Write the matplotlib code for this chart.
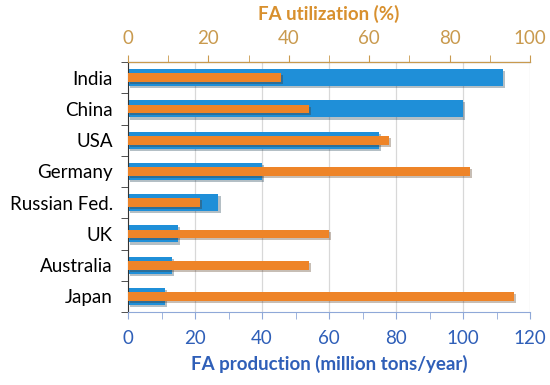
"""FA production vs utilization bar chart"""

import matplotlib.pyplot as plt
import matplotlib.patheffects as pe
import numpy as np
from matplotlib.ticker import MultipleLocator, FixedLocator

plt.rcParams['font.family'] = ['Lato', 'DejaVu Sans']

# == data ==
countries = ['India', 'China', 'USA', 'Germany', 'Russian Fed.', 'UK', 'Australia', 'Japan']
production = [112, 100, 75, 40, 27, 15, 13, 11]      # million tons/year
utilization = [38, 45, 65, 85, 18, 50, 45, 96]       # %

blue = '#1f8fd8'
orange = '#ee8428'
tan = '#c99a4e'
navy = '#2f5fb8'
fs = 13.5

# == plot ==
fig = plt.figure(figsize=(5.5, 3.85), dpi=100)
ax = fig.add_axes([128 / 550, 1 - 312 / 385, 402 / 550, 250 / 385])
y = np.arange(len(countries))

shadow = [pe.SimplePatchShadow(offset=(1.5, -1.5), alpha=0.3), pe.Normal()]
bars = ax.barh(y, production, height=0.55, color=blue, zorder=2)
for b in bars:
    b.set_path_effects(shadow)

ax.set_xlim(0, 120)
ax.set_ylim(len(countries) - 0.5, -0.5)
ax.set_yticks(y)
ax.set_yticklabels(countries, fontsize=fs)
ax.yaxis.set_minor_locator(FixedLocator(np.arange(-0.5, len(countries), 1)))
ax.tick_params(axis='y', which='major', length=0, pad=11)
ax.tick_params(axis='y', which='minor', length=5, color='#333333')

ax.xaxis.set_major_locator(MultipleLocator(20))
ax.xaxis.set_minor_locator(MultipleLocator(10))
ax.tick_params(axis='x', which='both', colors='#8fa8d8', length=5, labelcolor=navy,
               labelsize=fs, pad=8)
ax.grid(axis='x', which='major', color='#d8d8d8', lw=0.9, zorder=0)
ax.set_axisbelow(True)
ax.set_xlabel('FA production (million tons/year)', fontsize=fs, fontweight='bold',
              color=navy, labelpad=6)

ax.spines['right'].set_visible(False)
ax.spines['left'].set_color('#333333')
ax.spines['bottom'].set_color('#8fa8d8')

# top axis: utilization
ax2 = ax.twiny()
bars2 = ax2.barh(y, utilization, height=0.28, color=orange, zorder=3)
for b in bars2:
    b.set_path_effects(shadow)
ax2.set_xlim(0, 100)
ax2.xaxis.set_major_locator(MultipleLocator(20))
ax2.xaxis.set_minor_locator(MultipleLocator(10))
ax2.tick_params(axis='x', which='both', colors=tan, length=5, labelcolor=tan,
                labelsize=fs, pad=6)
ax2.set_xlabel('FA utilization (%)', fontsize=fs, fontweight='bold', color='#d8902e',
               labelpad=7)
ax2.spines['top'].set_color(tan)
for s in ['right', 'left', 'bottom']:
    ax2.spines[s].set_visible(False)

fig.savefig('out.png', dpi=100, facecolor='white')
